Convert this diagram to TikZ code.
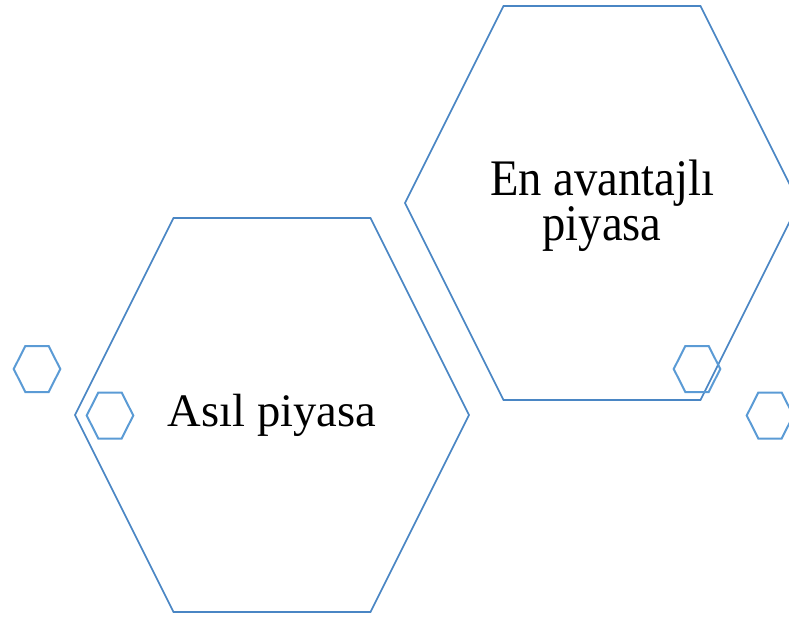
\documentclass[tikz,border=0pt]{standalone}
\usepackage{fontspec}
\setmainfont{Liberation Serif}
\usepackage{graphicx}
\usetikzlibrary{positioning}
\definecolor{hexblue}{RGB}{74,134,196}
\definecolor{hexlight}{RGB}{91,155,213}
% flat-topped hexagon: centre x, centre y, half width, half height
\newcommand{\hexpath}[4]{({#1-#3},{#2}) -- ({#1-#3/2},{#2-#4}) -- ({#1+#3/2},{#2-#4}) -- ({#1+#3},{#2}) -- ({#1+#3/2},{#2+#4}) -- ({#1-#3/2},{#2+#4}) -- cycle}
\newcommand{\tallText}[1]{\scalebox{1}[1.1]{#1}}
\newcommand{\twoLines}[2]{\vbox{\baselineskip=41.8pt\lineskiplimit=-\maxdimen\halign{\hfil##\hfil\cr #1\cr #2\cr}}}

\begin{document}
\begin{tikzpicture}[x=1pt, y=-1pt,
    bighex/.style={draw=hexblue, line width=1.7pt, line join=miter},
    smallhex/.style={draw=hexlight, line width=2pt, line join=miter},
    hexlabel/.style={inner sep=0pt, font=\fontsize{46.6}{41.8}\selectfont}]
  \useasboundingbox (0,0) rectangle (789,617);
  \clip (0,0) rectangle (789,617);
  \draw[bighex] \hexpath{272}{415}{197}{197};
  \draw[bighex] \hexpath{602}{203}{197}{197};
  \foreach \cx/\cy in {37/369, 110/415.5, 697/369, 770/415.5}
    \draw[smallhex] \hexpath{\cx}{\cy}{23.3}{23};
  \node[hexlabel, anchor=base] (asil) at (272,426) {Asıl piyasa};
  \node[hexlabel, anchor=base] (avantajli) at (602,241) {\tallText{\twoLines{En avantajlı}{piyasa}}};
\end{tikzpicture}
\end{document}
